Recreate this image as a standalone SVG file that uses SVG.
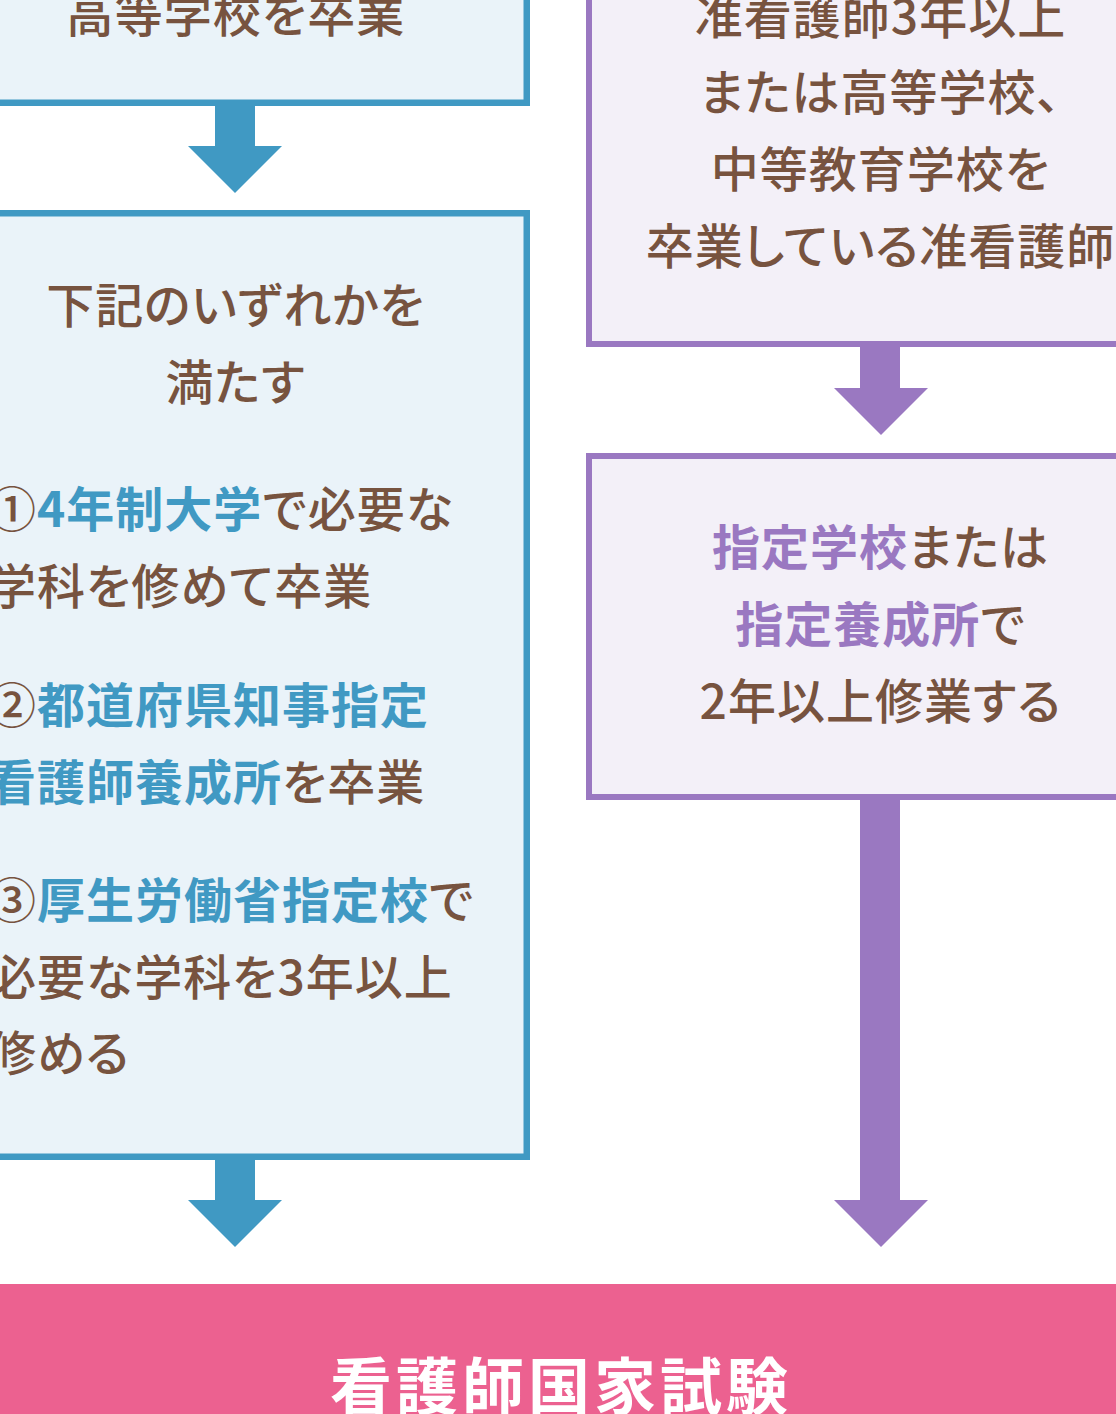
<svg xmlns="http://www.w3.org/2000/svg" width="1116" height="1414" viewBox="0 0 1116 1414">
<style>
.t{font-family:"Noto Sans CJK JP","Noto Sans",sans-serif;font-size:48px;fill:#77533F;font-weight:500;font-feature-settings:"palt";letter-spacing:1px;}
.c{text-anchor:middle;}
.bb{fill:#4099C3;font-weight:700;}
.pb{fill:#9A78C1;font-weight:700;}
.boxB{fill:#EAF3F9;stroke:#4099C3;stroke-width:6.5;}
.boxP{fill:#F3F0F8;stroke:#9A78C1;stroke-width:6;}
.arB{fill:#4099C3;}
.arP{fill:#9A78C1;}
.title{font-family:"Noto Sans CJK JP","Noto Sans",sans-serif;font-size:62px;font-weight:700;fill:#FFFFFF;letter-spacing:4px;text-anchor:middle;}
</style>
<rect x="0" y="0" width="1116" height="1414" fill="#FFFFFF"/>

<g id="node-high-school">
<rect class="boxB" x="-56.75" y="-100" width="583.5" height="202.75"/>
<text class="t c" x="235.5" y="32">高等学校を卒業</text>
</g>

<g id="node-conditions">
<rect class="boxB" x="-56.75" y="213.25" width="583.5" height="943.5"/>
<text class="t c" x="235.5" y="323">下記のいずれかを</text>
<text class="t c" x="235.5" y="400">満たす</text>
<text class="t" x="-12" y="527">①<tspan class="bb">4年制大学</tspan>で必要な</text>
<text class="t" x="-12" y="604">学科を修めて卒業</text>
<text class="t" x="-12" y="723">②<tspan class="bb">都道府県知事指定</tspan></text>
<text class="t" x="-12" y="800"><tspan class="bb">看護師養成所</tspan>を卒業</text>
<text class="t" x="-12" y="918">③<tspan class="bb">厚生労働省指定校</tspan>で</text>
<text class="t" x="-12" y="995">必要な学科を3年以上</text>
<text class="t" x="-12" y="1071">修める</text>
</g>

<g id="node-assoc-nurse">
<rect class="boxP" x="589" y="-100" width="582" height="444"/>
<text class="t c" x="880.5" y="34">准看護師3年以上</text>
<text class="t c" x="880.5" y="110">または高等学校、</text>
<text class="t c" x="880.5" y="187">中等教育学校を</text>
<text class="t c" x="880.5" y="264">卒業している准看護師</text>
</g>

<g id="node-designated">
<rect class="boxP" x="589" y="456" width="582" height="341"/>
<text class="t c" x="880.5" y="565"><tspan class="pb">指定学校</tspan>または</text>
<text class="t c" x="880.5" y="642"><tspan class="pb">指定養成所</tspan>で</text>
<text class="t c" x="880.5" y="719">2年以上修業する</text>
</g>

<g id="connectors">
<polygon class="arB" points="215,104 255,104 255,146 282,146 235,193 188,146 215,146"/>
<polygon class="arB" points="215,1158 255,1158 255,1200 282,1200 235,1247 188,1200 215,1200"/>
<polygon class="arP" points="860,345 900,345 900,388 928,388 881,435 834,388 860,388"/>
<polygon class="arP" points="860,798 900,798 900,1200 928,1200 881,1247 834,1200 860,1200"/>
</g>

<g id="node-exam">
<rect x="0" y="1284" width="1116" height="130" fill="#EC6190"/>
<text class="title" x="561" y="1410">看護師国家試験</text>
</g>
</svg>
